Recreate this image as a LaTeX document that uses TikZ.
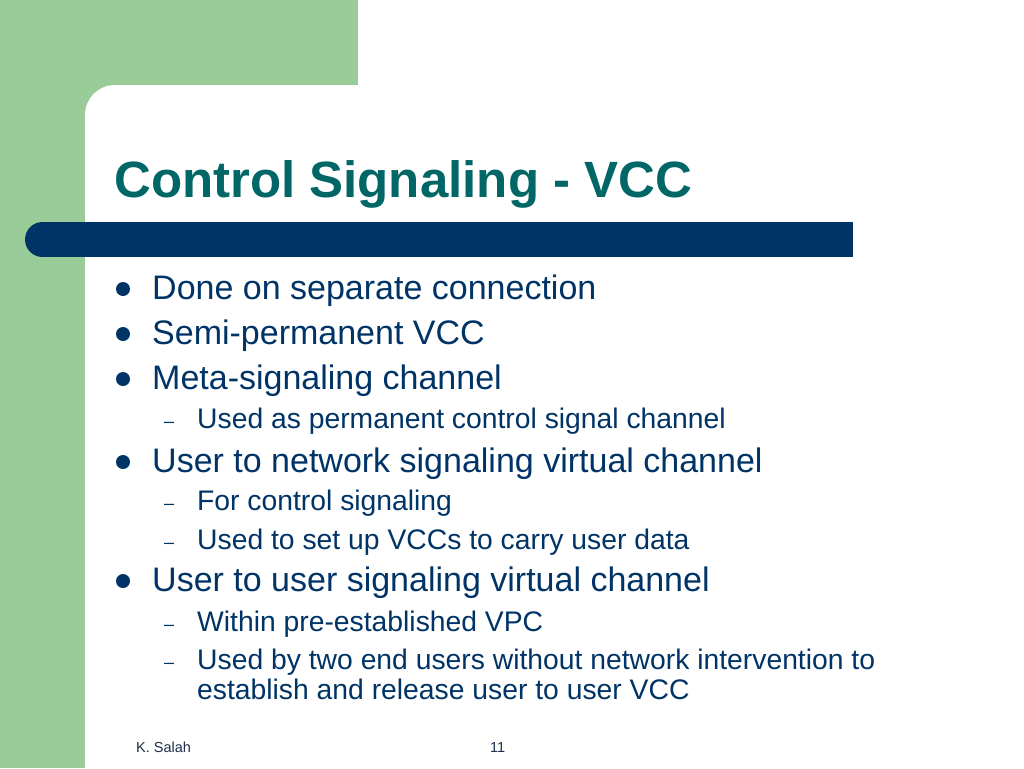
\documentclass[tikz,border=0pt]{standalone}
\usepackage{fontspec}
\setmainfont{Liberation Sans}
\definecolor{sgreen}{RGB}{153,204,153}
\definecolor{snavy}{RGB}{0,51,102}
\definecolor{steal}{RGB}{0,102,102}
\definecolor{sfoot}{RGB}{30,45,75}
\tikzset{
  titletext/.style={anchor=base west, inner sep=0pt, text=steal, font=\fontsize{51}{56}\selectfont\bfseries},
  mainitem/.style={anchor=base west, inner sep=0pt, text=snavy, font=\fontsize{34}{40}\selectfont},
  subitem/.style={anchor=base west, inner sep=0pt, text=snavy, font=\fontsize{28.3}{31}\selectfont, align=left},
  bulletdot/.style={circle, fill=snavy, inner sep=0pt, minimum size=14pt},
  subdash/.style={anchor=base west, inner sep=0pt, text=snavy, font=\fontsize{18}{20}\selectfont},
  foottext/.style={anchor=base west, inner sep=0pt, text=sfoot, font=\fontsize{14.5}{16}\selectfont}
}
\begin{document}
\begin{tikzpicture}[x=1pt,y=-1pt]
\clip (0,0) rectangle (1024,768);
\fill[white] (0,0) rectangle (1024,768);
% green background
\fill[sgreen] (0,0) rectangle (358,200);
\fill[sgreen] (0,0) rectangle (85,768);
\fill[white, rounded corners=30pt] (85,900) -- (85,85) -- (1100,85) -- (1100,900) -- cycle;
% blue bar
\fill[snavy] (42.5,222) rectangle (853,257);
\fill[snavy] (42.5,239.5) circle[radius=17.5];
% title
\node[titletext] (title) at (114,197) {Control Signaling - VCC};
% main items
\node[bulletdot] (b1) at (123,289) {};
\node[mainitem] (m1) at (152,299) {Done on separate connection};
\node[bulletdot] (b2) at (123,334) {};
\node[mainitem] (m2) at (152,344) {Semi-permanent VCC};
\node[bulletdot] (b3) at (123,379) {};
\node[mainitem] (m3) at (152,389) {Meta-signaling channel};
\node[subdash] (d1) at (164,427) {–};
\node[subitem] (s1) at (197,428) {Used as permanent control signal channel};
\node[bulletdot] (b4) at (123,462) {};
\node[mainitem] (m4) at (152,472) {User to network signaling virtual channel};
\node[subdash] (d2) at (164,509) {–};
\node[subitem] (s2) at (197,510) {For control signaling};
\node[subdash] (d3) at (164,548) {–};
\node[subitem] (s3) at (197,549) {Used to set up VCCs to carry user data};
\node[bulletdot] (b5) at (123,581) {};
\node[mainitem] (m5) at (152,591) {User to user signaling virtual channel};
\node[subdash] (d4) at (164,630) {–};
\node[subitem] (s4) at (197,631) {Within pre-established VPC};
\node[subdash] (d5) at (164,668) {–};
\node[subitem] (s5) at (197,669) {Used by two end users without network intervention to};
\node[subitem] (s6) at (197,699) {establish and release user to user VCC};
% footer
\node[foottext] (f1) at (136,752) {K. Salah};
\node[foottext] (f2) at (490,752) {11};
\end{tikzpicture}
\end{document}
